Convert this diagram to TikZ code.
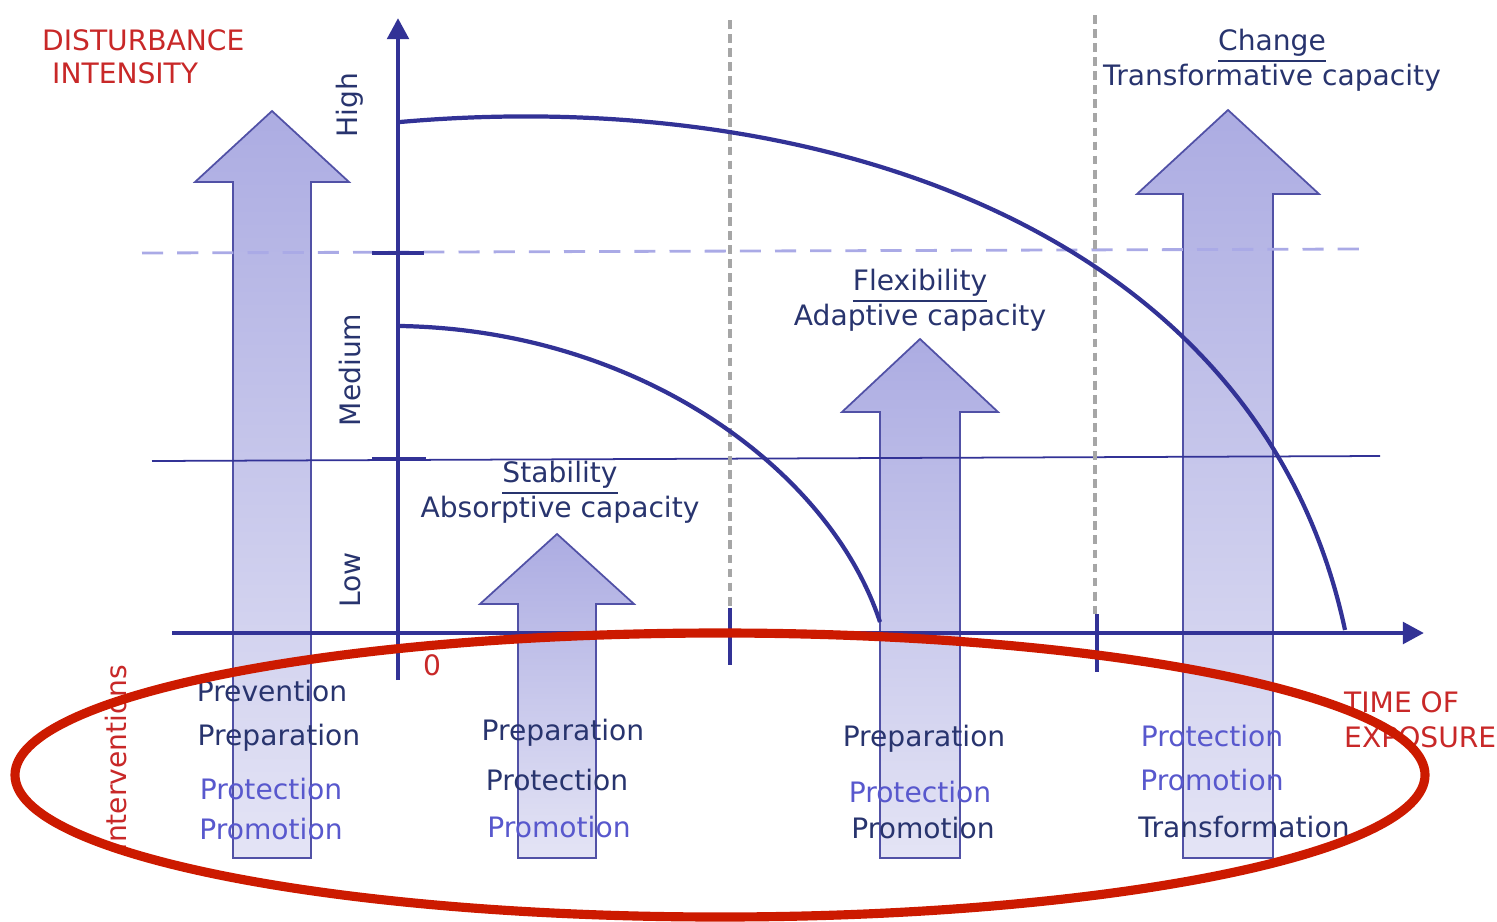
\documentclass[tikz,border=0pt]{standalone}
\usepackage{fontspec}
\setmainfont{DejaVu Sans}
\usetikzlibrary{arrows.meta}

\definecolor{axisblue}{RGB}{50,50,150}
\definecolor{navytext}{RGB}{40,52,110}
\definecolor{softblue}{RGB}{88,88,205}
\definecolor{labelred}{RGB}{200,40,40}
\definecolor{ringred}{RGB}{204,26,0}
\definecolor{arrowtop}{RGB}{172,172,226}
\definecolor{arrowbottom}{RGB}{228,228,245}
\definecolor{gridlilac}{RGB}{170,170,230}

% block arrow pointing up: centre x, tip y, head base y, bottom y, half head, half shaft
\newcommand{\upblock}[6]{%
  \path[blockarrow] (#1-#6,#4) -- (#1-#6,#3) -- (#1-#5,#3) -- (#1,#2)
    -- (#1+#5,#3) -- (#1+#6,#3) -- (#1+#6,#4) -- cycle;}

\begin{document}
\begin{tikzpicture}[x=0.01cm, y=-0.01cm,
    every node/.style={font=\fontsize{8pt}{10pt}\selectfont, inner sep=1pt},
    axis/.style={draw=axisblue, line width=1.4pt},
    tick/.style={draw=axisblue, line width=1.3pt},
    capacity/.style={axisblue, line width=1.2pt},
    blockarrow/.style={draw=axisblue!85, line width=0.5pt,
        top color=arrowtop, bottom color=arrowbottom},
    navy/.style={text=navytext},
    soft/.style={text=softblue},
    redlabel/.style={text=labelred},
    level/.style={text=navytext, rotate=90},
    heading/.style={text=navytext, align=center},
]
    \useasboundingbox (0,0) rectangle (1497,921);

    % intervention arrows
    \upblock{272}{111}{182}{858}{77}{39}
    \upblock{557}{534}{604}{858}{77}{39}
    \upblock{920}{339}{412}{858}{78}{40}
    \upblock{1228}{110}{194}{858}{91}{45}

    % levels of intensity and phases
    \draw[gridlilac, line width=0.8pt, dash pattern=on 6pt off 4pt] (142,253) -- (1362,249);
    \draw[axisblue, line width=0.5pt] (152,461) -- (1380,456);
    \draw[gray!70, line width=0.9pt, dash pattern=on 2.5pt off 1.5pt] (730,20) -- (730,608);
    \draw[gray!70, line width=0.9pt, dash pattern=on 2.5pt off 1.5pt] (1095,15) -- (1095,614);

    % axes
    \draw[axis, -{Triangle[length=6pt, width=6pt]}] (398,680) -- (398,18);
    \draw[axis, -{Triangle[length=6pt, width=6pt]}] (172,633) -- (1424,633);
    \draw[tick] (372,253) -- (424,253);
    \draw[tick] (372,459) -- (426,459);
    \draw[tick] (730,608) -- (730,665);
    \draw[tick] (1097,614) -- (1097,672);

    % capacity curves
    \draw[capacity] (400,326) .. controls (640,330) and (830,470) .. (880,622);
    \draw[capacity] (400,122) .. controls (820,85) and (1260,230) .. (1345,630);

    % axis labels
    \node[redlabel, anchor=west] (intensity1) at (38,40) {DISTURBANCE};
    \node[redlabel, anchor=west] (intensity2) at (48,73) {INTENSITY};
    \node[redlabel, anchor=west, align=left] (exposure) at (1340,720) {TIME OF\\EXPOSURE};
    \node[redlabel] (zero) at (432,665) {0};
    \node[redlabel, rotate=90] (interventions) at (116,758) {Interventions};
    \node[level] (high) at (350,105) {High};
    \node[level] (medium) at (350,370) {Medium};
    \node[level] (low) at (350,580) {Low};

    % capacities
    \node[heading] (stability) at (560,492) {\underline{Stability}\\Absorptive capacity};
    \node[heading] (flexibility) at (920,300) {\underline{Flexibility}\\Adaptive capacity};
    \node[heading] (change) at (1272,60) {\underline{Change}\\Transformative capacity};

    % interventions per phase
    \node[navy] (prevA) at (272,691) {Prevention};
    \node[navy] (prepA) at (279,738) {Preparation};
    \node[soft] (protA) at (271,789) {Protection};
    \node[soft] (promA) at (271,829) {Promotion};

    \node[navy] (prepB) at (563,733) {Preparation};
    \node[navy] (protB) at (557,780) {Protection};
    \node[soft] (promB) at (559,827) {Promotion};

    \node[navy] (prepC) at (924,739) {Preparation};
    \node[soft] (protC) at (920,792) {Protection};
    \node[navy] (promC) at (923,828) {Promotion};

    \node[soft] (protD) at (1212,736) {Protection};
    \node[soft] (promD) at (1212,780) {Promotion};
    \node[navy] (transD) at (1244,827) {Transformation};

    % highlight ring
    \draw[ringred, line width=2.6pt] (720,775) ellipse [x radius=705, y radius=142];
\end{tikzpicture}
\end{document}
